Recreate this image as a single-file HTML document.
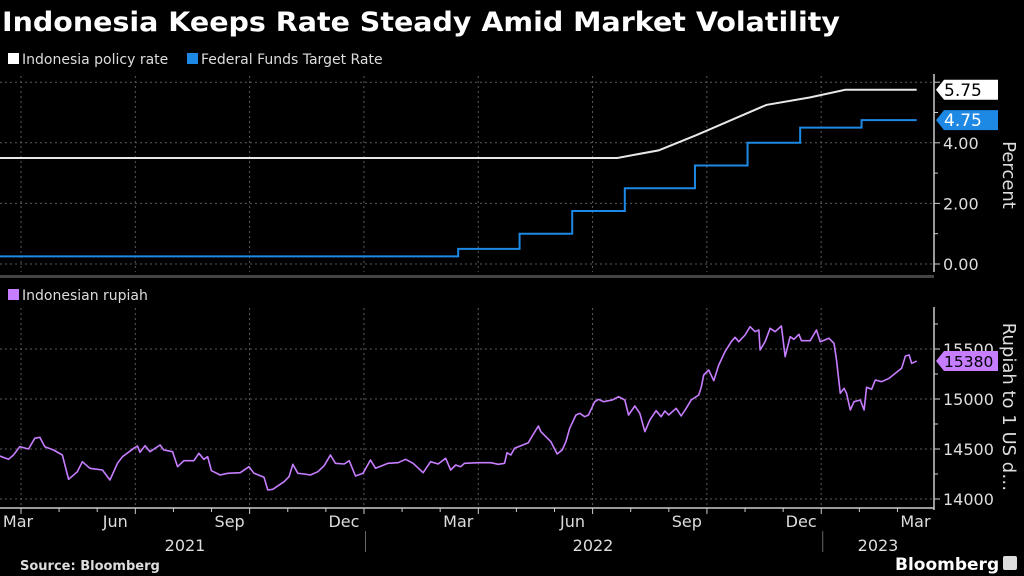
<!DOCTYPE html>
<html><head><meta charset="utf-8"><style>
html,body{margin:0;padding:0;background:#000;width:1024px;height:576px;overflow:hidden}
svg{display:block;font-family:"DejaVu Sans","Liberation Sans",sans-serif}
</style></head><body>
<svg id="chart" width="1024" height="576" viewBox="0 0 1024 576">
<text x="2" y="31" font-size="27" font-weight="bold" fill="#fff" textLength="838" lengthAdjust="spacingAndGlyphs">Indonesia Keeps Rate Steady Amid Market Volatility</text>
<g>
<rect x="8" y="53" width="11" height="11" fill="#fff"/>
<text x="22" y="64" font-size="14" fill="#ddd">Indonesia policy rate</text>
<rect x="187" y="53" width="11" height="11" fill="#1e88e5"/>
<text x="201" y="64" font-size="14" fill="#ddd">Federal Funds Target Rate</text>
</g>
<rect x="0" y="275" width="934" height="3" fill="#444"/>
<g>
<rect x="8" y="289" width="11" height="11" fill="#c77dff"/>
<text x="22" y="300" font-size="14" fill="#ddd">Indonesian rupiah</text>
</g>
<g id="grid"></g>
<g id="marks"></g>
<g id="axes"></g>
<text x="20" y="570" font-size="13" font-weight="bold" fill="#ddd">Source: Bloomberg</text>
<text x="895" y="570" font-size="17" font-weight="bold" fill="#fff">Bloomberg</text>
<rect x="1003" y="556" width="14" height="14" rx="2" fill="#ddd"/>
</svg>
<script>
// day offsets from 2021-04-01
const policyDays=[-17,476,509,539,567,595,630,658,715];
const policyVals=[3.5,3.5,3.75,4.25,4.75,5.25,5.5,5.75,5.75];
const fedDays=[-17,349,398,440,482,538,580,622,671,715];
const fedVals=[0.25,0.5,1.0,1.75,2.5,3.25,4.0,4.5,4.75,4.75];
const rupDays=[-17,-10,-6,-1,6,11,15,19,26,33,38,45,49,55,65,71,77,81,90,93,95,99,103,111,114,121,125,130,138,142,146,149,152,159,165,175,182,186,194,197,201,210,214,217,221,226,231,237,242,247,251,258,262,267,273,279,283,293,301,307,313,321,325,
327,333,339,343,347,351,354,365,375,381,386,388,391,394,405,407,413,415,423,428,432,435,438,443,446,450,453,458,461,465,472,477,482,485,490,494,498,502,507,511,514,517,523,527,531,535,541,543,545,549,553,557,562,567,570,573,578,582,586,589,590,594,598,602,607,610,614,617,621,623,630,635,638,645,649,651,654,657,659,662,665,670,673,675,679,682,687,693,698,703,706,709,711,714,715];
const rupVals=[14430,14397,14440,14523,14500,14607,14617,14523,14490,14440,14197,14273,14373,14307,14290,14190,14357,14423,14507,14530,14467,14533,14473,14540,14490,14473,14323,14383,14383,14457,14397,14423,14283,14240,14257,14263,14323,14257,14217,14090,14097,14173,14223,14347,14257,14250,14240,14273,14333,14440,14357,14350,14383,14230,14257,14390,14307,14357,14363,14397,14357,14263,14337,
14373,14350,14407,14290,14340,14323,14357,14363,14363,14347,14357,14463,14440,14507,14563,14607,14730,14673,14573,14450,14490,14573,14707,14840,14857,14823,14840,14973,14997,14973,14990,15023,14990,14840,14930,14857,14673,14790,14883,14823,14880,14840,14907,14830,14907,14990,15040,15117,15240,15290,15183,15340,15473,15573,15617,15573,15640,15723,15673,15690,15490,15573,15707,15673,15730,15423,15623,15597,15647,15583,15583,15690,15573,15607,15557,15390,15057,15107,15057,14890,14973,14990,14890,15117,15097,15190,15173,15207,15257,15307,15430,15440,15357,15373,15380];
const pctTicks=[0,2,4,6];
const pctLabels=["0.00","2.00","4.00",""];
const rupTicks=[14000,14500,15000,15500];
const monthLabels=["Mar","Jun","Sep","Dec","Mar","Jun","Sep","Dec","Mar"];
const yearLabels=["2021","2022","2023"];

const NS="http://www.w3.org/2000/svg";
const X=d=>21+d*1.2527;
const YP=v=>264-v*30.3;
const YR=v=>349-(v-15500)*0.1;
function mk(tag,attrs,parent){const e=document.createElementNS(NS,tag);for(const k in attrs)e.setAttribute(k,attrs[k]);parent.appendChild(e);return e;}
const grid=document.getElementById('grid'),marks=document.getElementById('marks'),axes=document.getElementById('axes');
const gs={stroke:"#5a5a5a","stroke-width":1,"stroke-dasharray":"2,3"};
pctTicks.forEach(v=>{const l=mk('line',Object.assign({x1:0,x2:934,y1:YP(v),y2:YP(v)},gs),grid);

});
rupTicks.forEach(v=>{const l=mk('line',Object.assign({x1:0,x2:934,y1:YR(v),y2:YR(v)},gs),grid);

});
for(let q=0;q<8;q++){const x=X(q*91.25);
[[76,272],[308,508]].forEach(r=>{const l=mk('line',Object.assign({x1:x,x2:x,y1:r[0],y2:r[1]},gs),grid);

});}
function stepPts(ds,vs,Y){let p=[];ds.forEach((d,i)=>{if(i>0)p.push([X(d),Y(vs[i-1])]);p.push([X(d),Y(vs[i])]);});return p.map(a=>a.join(',')).join(' ');}
function linePts(ds,vs,Y){return ds.map((d,i)=>X(d)+','+Y(vs[i])).join(' ');}
const pl=mk('polyline',{points:linePts(policyDays,policyVals,YP),fill:"none",stroke:"#e8e8e8","stroke-width":2},marks);


const fl=mk('polyline',{points:stepPts(fedDays,fedVals,YP),fill:"none",stroke:"#1e88e5","stroke-width":2},marks);


const rl=mk('polyline',{points:linePts(rupDays,rupVals,YR),fill:"none",stroke:"#c77dff","stroke-width":1.6,"stroke-linejoin":"round"},marks);


const ax=mk('line',{x1:934,x2:934,y1:74,y2:272,stroke:"#ccc","stroke-width":1.5},axes);


const ax2=mk('line',{x1:934,x2:934,y1:307,y2:510,stroke:"#ccc","stroke-width":1.5},axes);


for(let v=0;v<=6;v+=1){const y=YP(v);const t=mk('line',{x1:934,x2:v%2?938:940,y1:y,y2:y,stroke:"#ccc"},axes);

}
pctTicks.forEach((v,i)=>{if(!pctLabels[i])return;const t=mk('text',{x:943,y:YP(v)+6,"font-size":16,fill:"#ddd"},axes);t.textContent=pctLabels[i];

});
for(let v=14000;v<=15750;v+=250){const y=YR(v);const t=mk('line',{x1:934,x2:v%500?938:940,y1:y,y2:y,stroke:"#ccc"},axes);

}
rupTicks.forEach(v=>{const t=mk('text',{x:943,y:YR(v)+6,"font-size":16,fill:"#ddd"},axes);t.textContent=v;

});
function tag(y,w,bg,fg,txt,name,fs){const g=mk('g',{},axes);


mk('path',{d:`M936,${y} L944,${y-10} L${936+w},${y-10} L${936+w},${y+10} L944,${y+10} Z`,fill:bg},g);
const t=mk('text',{x:944,y:y+6,"font-size":fs,fill:fg},g);t.textContent=txt;}
tag(YP(policyVals[policyVals.length-1]),62,"#fff","#000",policyVals[policyVals.length-1].toFixed(2),'policy-value-tag',17);
tag(YP(fedVals[fedVals.length-1]),62,"#1e88e5","#fff",fedVals[fedVals.length-1].toFixed(2),'fed-value-tag',17);
tag(YR(rupVals[rupVals.length-1]),62,"#c77dff","#000",String(rupVals[rupVals.length-1]),'rupiah-value-tag',15.5);
const pt=mk('text',{x:0,y:0,"font-size":18,fill:"#ddd",transform:"translate(1003,175) rotate(90)","text-anchor":"middle"},axes);pt.textContent="Percent";


const rt=mk('text',{x:0,y:0,"font-size":18,fill:"#ddd",transform:"translate(1003,407) rotate(90)","text-anchor":"middle"},axes);rt.textContent="Rupiah to 1 US d…";


const xl=mk('line',{x1:0,x2:934,y1:508,y2:508,stroke:"#ccc","stroke-width":1.5},axes);


for(let m=-1;m<24;m++){const x=X(m*30.42);if(x<0)continue;const t=mk('line',{x1:x,x2:x,y1:508,y2:m%3==0?514:512,stroke:"#ccc"},axes);

}
monthLabels.forEach((s,i)=>{const t=mk('text',{x:Math.max(18,X(i*91.25)-20),y:527,"font-size":16,fill:"#ddd","text-anchor":"middle"},axes);t.textContent=s;

});
const yx=[185,593,878];
yearLabels.forEach((s,i)=>{const t=mk('text',{x:yx[i],y:551,"font-size":16,fill:"#ddd","text-anchor":"middle"},axes);t.textContent=s;

});
[X(275),X(640)].forEach(x=>{const l=mk('line',{x1:x,x2:x,y1:531,y2:552,stroke:"#666"},axes);

});
</script>
</body></html>
